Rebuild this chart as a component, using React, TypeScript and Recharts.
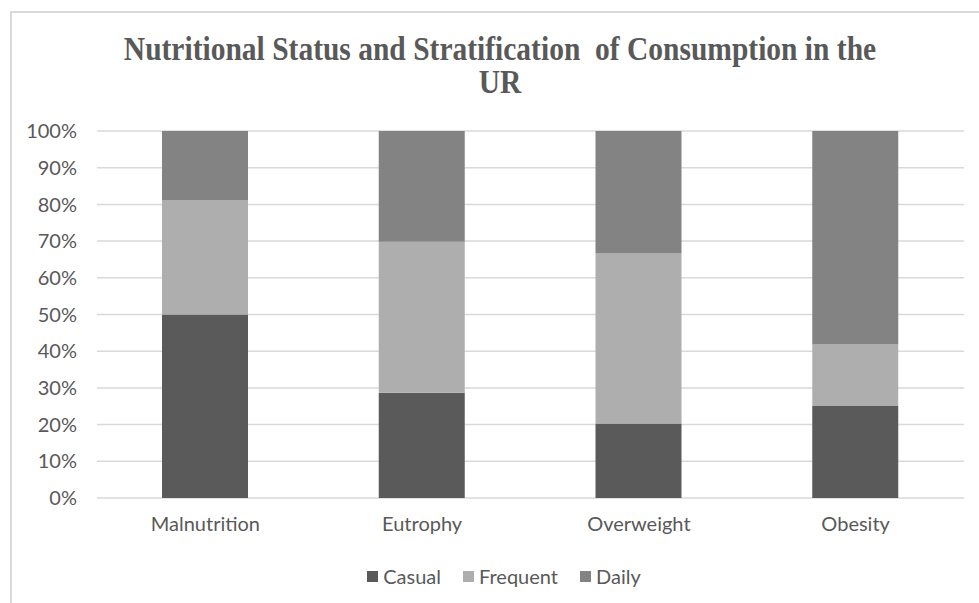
import { Bar, BarChart, CartesianGrid, XAxis, YAxis } from 'recharts';

const categories = ['Malnutrition', 'Eutrophy', 'Overweight', 'Obesity'];
const casual = [50, 28.7, 20.3, 25.1];
const frequent = [31.2, 41.1, 46.3, 16.7];
const daily = [18.8, 30.2, 33.4, 58.2];
const yTicks = [0, 10, 20, 30, 40, 50, 60, 70, 80, 90, 100];
const seriesNames = ['Casual', 'Frequent', 'Daily'];

const COLORS = {
  casual: '#5a5a5a',
  frequent: '#aeaeae',
  daily: '#838383',
  grid: '#d9d9d9',
  text: '#595959',
};

const data = categories.map((name, i) => ({
  name,
  Casual: casual[i],
  Frequent: frequent[i],
  Daily: daily[i],
}));

const seriesColors = [COLORS.casual, COLORS.frequent, COLORS.daily];

function ChartLegend() {
  return (
    <div
      style={{
        position: 'absolute',
        top: 563,
        left: 0,
        width: 1008,
        display: 'flex',
        justifyContent: 'center',
        fontFamily: 'Lato',
        fontSize: 20,
        lineHeight: '26px',
        color: COLORS.text,
      }}
    >
      {seriesNames.map((n, i) => (
        <div key={n} style={{ display: 'flex', alignItems: 'center', marginRight: i < 2 ? 22 : 0 }}>
          <span style={{ width: 11, height: 11, background: seriesColors[i], marginRight: 5, display: 'inline-block' }} />
          <span>{n}</span>
        </div>
      ))}
    </div>
  );
}

export default function App() {
  return (
    <div style={{ position: 'fixed', left: 0, top: 0, width: 979, height: 603, background: '#fff', overflow: 'hidden' }}>
      <div
        style={{
          position: 'absolute',
          left: 10,
          top: 11,
          width: 990,
          height: 620,
          borderTop: `2px solid ${COLORS.grid}`,
          borderLeft: `2px solid ${COLORS.grid}`,
        }}
      />
      <div
        style={{
          position: 'absolute',
          left: 0,
          top: 33,
          width: 1000,
          textAlign: 'center',
          fontFamily: '"Liberation Serif", serif',
          fontWeight: 'bold',
          fontSize: 29.5,
          lineHeight: '29.5px',
          color: COLORS.text,
          transform: 'scaleY(1.12)',
          transformOrigin: 'top',
        }}
      >
        Nutritional Status and Stratification&nbsp; of Consumption in the
        <br />
        UR
      </div>
      <BarChart
        width={979}
        height={603}
        data={data}
        margin={{ top: 131, right: 15, left: 0, bottom: 75 }}
        style={{ position: 'absolute', left: 0, top: 0 }}
      >
        <CartesianGrid stroke={COLORS.grid} strokeWidth={1.5} vertical={false} />
        <XAxis
          dataKey="name"
          axisLine={false}
          tickLine={false}
          tickMargin={13}
          tick={{ fill: COLORS.text, fontSize: 20, fontFamily: 'Lato' }}
        />
        <YAxis
          width={97}
          domain={[0, 100]}
          ticks={yTicks}
          axisLine={false}
          tickLine={false}
          tickMargin={14}
          tickFormatter={(v) => `${v}%`}
          tick={{ fill: COLORS.text, fontSize: 20, fontFamily: 'Lato' }}
        />
        <Bar dataKey="Casual" stackId="a" fill={COLORS.casual} barSize={86} isAnimationActive={false} />
        <Bar dataKey="Frequent" stackId="a" fill={COLORS.frequent} barSize={86} isAnimationActive={false} />
        <Bar dataKey="Daily" stackId="a" fill={COLORS.daily} barSize={86} isAnimationActive={false} />
      </BarChart>
      <ChartLegend />
    </div>
  );
}
